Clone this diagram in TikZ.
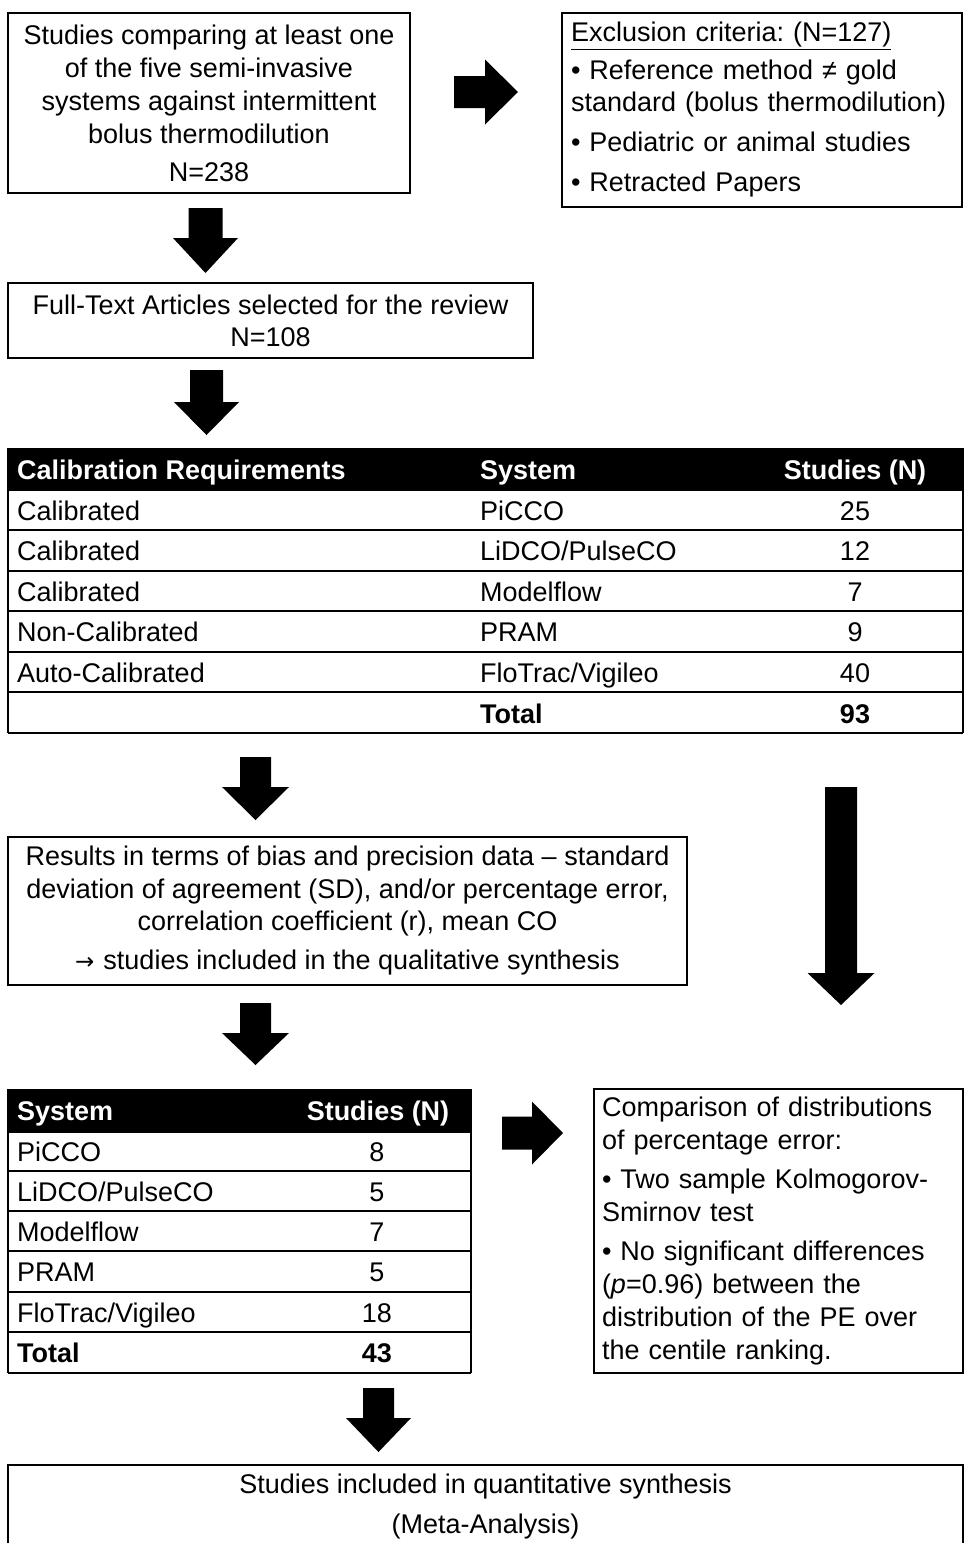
\documentclass[tikz,border=0pt]{standalone}
\usepackage{fontspec}
\setmainfont{Liberation Sans}
\newfontfamily\symfnt{DejaVu Sans}
\frenchspacing
\newcommand\fatdown[6]{% cx, top, shaft half, head start, head half, tip
  \fill ({#1-#3},#2) -- ({#1+#3},#2) -- ({#1+#3},#4) -- ({#1+#5},#4) -- (#1,#6) -- ({#1-#5},#4) -- ({#1-#3},#4) -- cycle;}
\newcommand\fatright[6]{% cy, left, shaft half, head start, head half, tip
  \fill (#2,{#1-#3}) -- (#4,{#1-#3}) -- (#4,{#1-#5}) -- (#6,#1) -- (#4,{#1+#5}) -- (#4,{#1+#3}) -- (#2,{#1+#3}) -- cycle;}
\begin{document}
\begin{tikzpicture}[x=1pt,y=-1pt,
  box/.style={draw, line width=2pt, inner sep=0pt, font=\fontsize{27}{33}\selectfont},
  tline/.style={line width=2.5pt},
  cell/.style={anchor=base west, inner sep=0pt, font=\fontsize{27}{33}\selectfont},
  numcell/.style={anchor=base, inner sep=0pt, font=\fontsize{27}{33}\selectfont},
  head/.style={text=white, font=\fontsize{27}{33}\selectfont\bfseries}]
\useasboundingbox (0,0) rectangle (965,1543);
\fill[white] (0,0) rectangle (965,1543);

% top boxes
\node[box, minimum width=402, minimum height=180, align=center] (b1) at (209,103)
  {Studies comparing at least one\\of the five semi-invasive\\systems against intermittent\\bolus thermodilution\\[5pt]N=238};
\node[box, minimum width=400, minimum height=194, text width=382, align=left,
  font=\fontsize{27}{32}\selectfont] (b2) at (762,110)
  {\underline{Exclusion criteria: (N=127)}\\[6pt]• Reference method ≠ gold\\standard (bolus thermodilution)\\[8pt]• Pediatric or animal studies\\[8pt]• Retracted Papers};
\fatright{92}{454}{16}{485}{32.5}{518}
\fatdown{205.5}{208}{17}{238}{32.5}{273}

\node[box, minimum width=525, minimum height=75, align=center,
  font=\fontsize{27}{32}\selectfont] (b3) at (270.5,320.5)
  {Full-Text Articles selected for the review\\N=108};
\fatdown{206.5}{370}{16.5}{402}{32.5}{435}

% table 1
\fill (8,448) rectangle (963,490);
\foreach \yy in {490,530,571,611,652,692,733} \draw[tline] (8,\yy) -- (963,\yy);
\draw[tline] (8,448) -- (8,733);
\draw[tline] (963,448) -- (963,733);
\node[cell, head] (t1h1) at (17,479) {Calibration Requirements};
\node[cell, head] (t1h2) at (480,479) {System};
\node[numcell, head] (t1h3) at (855,479) {Studies (N)};
\node[cell] (t1a1) at (17,520) {Calibrated};
\node[cell] (t1b1) at (480,520) {PiCCO};
\node[numcell] (t1c1) at (855,520) {25};
\node[cell] (t1a2) at (17,560) {Calibrated};
\node[cell] (t1b2) at (480,560) {LiDCO/PulseCO};
\node[numcell] (t1c2) at (855,560) {12};
\node[cell] (t1a3) at (17,601) {Calibrated};
\node[cell] (t1b3) at (480,601) {Modelflow};
\node[numcell] (t1c3) at (855,601) {7};
\node[cell] (t1a4) at (17,641) {Non-Calibrated};
\node[cell] (t1b4) at (480,641) {PRAM};
\node[numcell] (t1c4) at (855,641) {9};
\node[cell] (t1a5) at (17,682) {Auto-Calibrated};
\node[cell] (t1b5) at (480,682) {FloTrac/Vigileo};
\node[numcell] (t1c5) at (855,682) {40};
\node[cell, font=\fontsize{27}{33}\selectfont\bfseries] (t1b6) at (480,723) {Total};
\node[numcell, font=\fontsize{27}{33}\selectfont\bfseries] (t1c6) at (855,723) {93};

\fatdown{255.5}{757}{15.5}{787}{33.5}{820}
\fatdown{841}{787}{16}{973}{33.5}{1005}

\node[box, minimum width=679, minimum height=148, align=center,
  font=\fontsize{27}{32.5}\selectfont] (b4) at (347.5,911)
  {Results in terms of bias and precision data – standard\\deviation of agreement (SD), and/or percentage error,\\correlation coefficient (r), mean CO\\[6.5pt]{\symfnt\fontsize{23}{32}\selectfont →}\,\,studies included in the qualitative synthesis};
\fatdown{255.5}{1003}{15.5}{1033}{33.5}{1065}

% table 2
\fill (8,1089) rectangle (471,1132);
\foreach \yy in {1132,1171,1211,1251,1292,1332,1373} \draw[tline] (8,\yy) -- (471,\yy);
\draw[tline] (8,1089) -- (8,1373);
\draw[tline] (471,1089) -- (471,1373);
\node[cell, head] (t2h1) at (17,1120) {System};
\node[numcell, head] (t2h2) at (378,1120) {Studies (N)};
\node[cell] (t2a1) at (17,1161) {PiCCO};
\node[numcell] (t2b1) at (377,1161) {8};
\node[cell] (t2a2) at (17,1201) {LiDCO/PulseCO};
\node[numcell] (t2b2) at (377,1201) {5};
\node[cell] (t2a3) at (17,1241) {Modelflow};
\node[numcell] (t2b3) at (377,1241) {7};
\node[cell] (t2a4) at (17,1281) {PRAM};
\node[numcell] (t2b4) at (377,1281) {5};
\node[cell] (t2a5) at (17,1322) {FloTrac/Vigileo};
\node[numcell] (t2b5) at (377,1322) {18};
\node[cell, font=\fontsize{27}{33}\selectfont\bfseries] (t2a6) at (17,1362) {Total};
\node[numcell, font=\fontsize{27}{33}\selectfont\bfseries] (t2b6) at (377,1362) {43};

\fatright{1133}{502}{16.5}{532}{31.5}{563}

\node[box, minimum width=369, minimum height=284, text width=353, align=left] (b5) at (778.5,1231)
  {Comparison of distributions\\of percentage error:\\[6pt]• Two sample Kolmogorov-\\Smirnov test\\[6pt]• No significant differences\\(\textit{p}=0.96) between the\\distribution of the PE over\\the centile ranking.};

\fatdown{378.5}{1388}{15.5}{1418}{32.5}{1452}

\node[box, minimum width=955, minimum height=83, align=center,
  font=\fontsize{27}{32}\selectfont] (b6) at (485.5,1506.5)
  {Studies included in quantitative synthesis\\[8pt](Meta-Analysis)};
\end{tikzpicture}
\end{document}
